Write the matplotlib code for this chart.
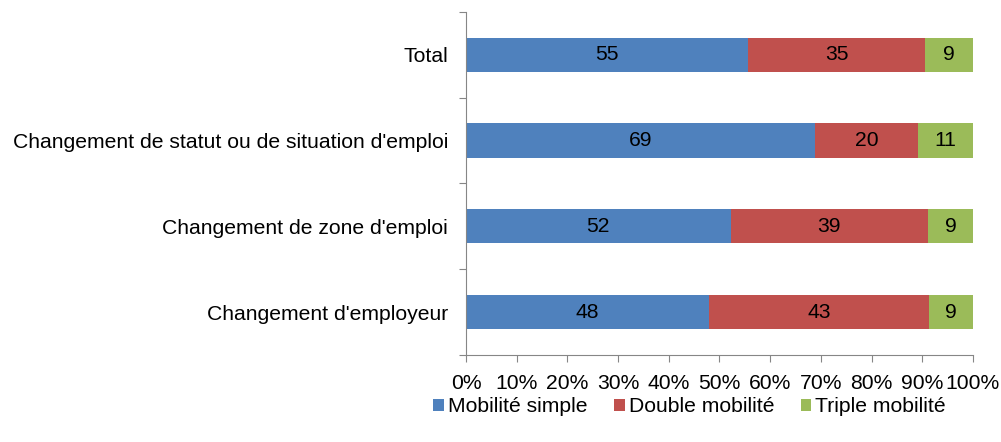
import matplotlib.pyplot as plt
import numpy as np
from matplotlib.patches import Patch

categories = [
    "Total",
    "Changement de statut ou de situation d'emploi",
    "Changement de zone d'emploi",
    "Changement d'employeur",
]
simple = [55.6, 68.9, 52.2, 48.0]
double = [35.0, 20.2, 38.9, 43.3]
triple = [9.4, 10.9, 8.9, 8.7]
labels_simple = [55, 69, 52, 48]
labels_double = [35, 20, 39, 43]
labels_triple = [9, 11, 9, 9]
series_names = ["Mobilité simple", "Double mobilité", "Triple mobilité"]
colors = ["#4F81BD", "#C0504D", "#9BBB59"]

plt.rcParams["font.family"] = ["Liberation Sans", "DejaVu Sans"]
fs = 15.2

fig = plt.figure(figsize=(10.01, 4.42), dpi=100)
ax = fig.add_axes([0.4655, 0.197, 0.5065, 0.776])

y = np.arange(len(categories))[::-1]
left = np.zeros(len(categories))
for vals, labs, col in zip([simple, double, triple],
                           [labels_simple, labels_double, labels_triple], colors):
    ax.barh(y, vals, left=left, height=0.4, color=col, edgecolor="none")
    for yi, l, v, lab in zip(y, left, vals, labs):
        ax.text(l + v / 2, yi, str(lab), ha="center", va="center", fontsize=fs)
    left = left + np.array(vals)

ax.set_xlim(0, 100)
ax.set_ylim(-0.5, len(categories) - 0.5)
ax.set_xticks(np.arange(0, 101, 10))
ax.set_xticklabels([f"{v}%" for v in range(0, 101, 10)], fontsize=fs)
ax.set_yticks(np.arange(-0.5, len(categories), 1.0))
ax.set_yticklabels([])
ax.set_yticks(y, minor=True)
ax.set_yticklabels(categories, minor=True, fontsize=fs)
ax.tick_params(axis="y", which="minor", length=0, pad=13)
ax.tick_params(axis="y", which="major", length=5, color="#868686", direction="out")
ax.tick_params(axis="x", length=5, color="#868686", direction="out", pad=9)

for s in ["top", "right"]:
    ax.spines[s].set_visible(False)
for s in ["left", "bottom"]:
    ax.spines[s].set_color("#868686")

handles = [Patch(facecolor=c, edgecolor="none") for c in colors]
fig.legend(handles, series_names, loc="center", bbox_to_anchor=(0.689, 0.08),
           ncol=3, frameon=False, fontsize=fs, handlelength=0.5, handleheight=0.5,
           handletextpad=0.2, columnspacing=1.25)

fig.savefig("out.png", dpi=100)
